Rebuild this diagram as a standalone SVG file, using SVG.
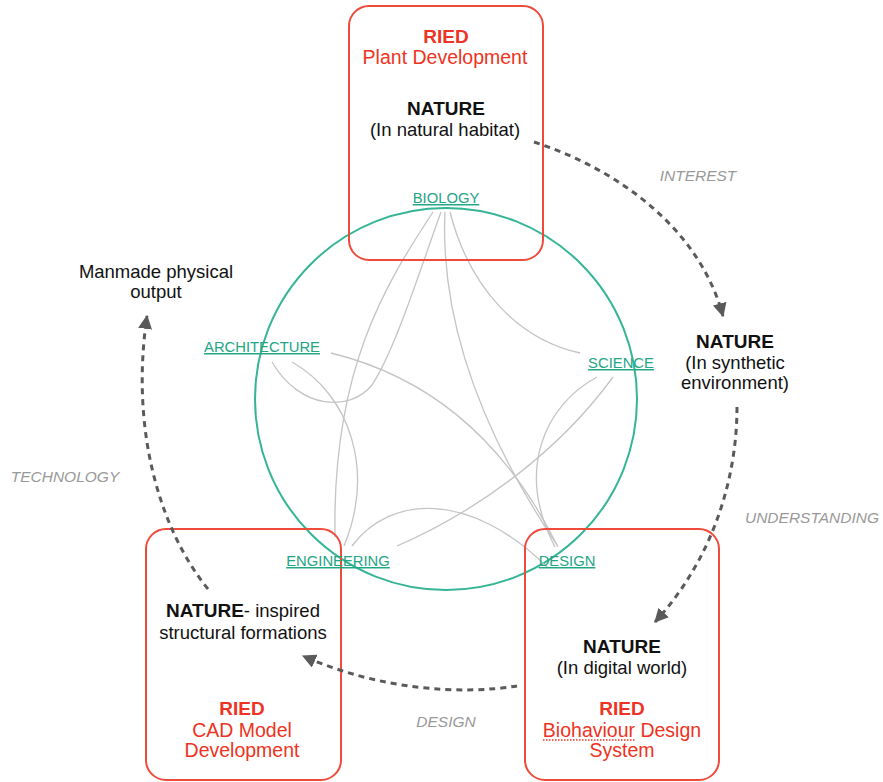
<svg xmlns="http://www.w3.org/2000/svg" width="883" height="782" viewBox="0 0 883 782">
<style>
.box{fill:none;stroke:#ef4b3c;stroke-width:2}
.ring{fill:none;stroke:#35b596;stroke-width:2}
.link{fill:none;stroke:#c4c4c4;stroke-width:1.3}
.flow{fill:none;stroke:#5a5a5a;stroke-width:3;stroke-dasharray:6 5}
text{font-family:"Liberation Sans",Arial,Helvetica,sans-serif;text-anchor:middle}
.red{fill:#ee3322;font-size:19.5px}
.redb{fill:#ee3322;font-size:19px;font-weight:bold}
.blk{fill:#111;font-size:18.5px}
.blkb{fill:#111;font-size:19px;font-weight:bold}
.tag{fill:#24a585;font-size:14.8px;text-decoration:underline}
.lab{fill:#999;font-size:15.5px;font-style:italic}
</style>
<defs>
<marker id="ah" viewBox="0 0 12 12" refX="11" refY="6" markerWidth="14" markerHeight="14" markerUnits="userSpaceOnUse" orient="auto">
<path d="M0,0 L12,6 L0,12 z" fill="#5a5a5a"/>
</marker>
</defs>

<g id="circle-disciplines">
<circle class="ring" cx="446" cy="399" r="191"/>
</g>

<g id="links">
<path class="link" d="M433,212 C385,285 332,370 335,537"/>
<path class="link" d="M441,212 C420,270 395,350 372,385 C350,412 300,410 272,362"/>
<path class="link" d="M445,212 C440,320 480,430 557,545"/>
<path class="link" d="M450,212 C470,290 520,340 580,353"/>
<path class="link" d="M292,362 C350,395 375,470 344,546"/>
<path class="link" d="M331,353 C420,375 500,430 558,547"/>
<path class="link" d="M597,377 C545,405 515,470 555,547"/>
<path class="link" d="M613,377 C560,450 480,510 397,546"/>
<path class="link" d="M352,546 C390,495 470,490 548,568"/>
</g>

<g id="node-top">
<rect class="box" x="349" y="6" width="194" height="254" rx="20"/>
<text class="redb" x="446" y="43">RIED</text>
<text class="red" x="445" y="64">Plant Development</text>
<text class="blkb" x="446" y="115">NATURE</text>
<text class="blk" x="445" y="136">(In natural habitat)</text>
</g>

<g id="node-bottom-left">
<rect class="box" x="146" y="529" width="195" height="251" rx="20"/>
<text class="blk" x="243" y="617"><tspan font-weight="bold" font-size="19">NATURE</tspan>- inspired</text>
<text class="blk" x="243" y="639">structural formations</text>
<text class="redb" x="242" y="715">RIED</text>
<text class="red" x="242" y="737">CAD Model</text>
<text class="red" x="242" y="757">Development</text>
</g>

<g id="node-bottom-right">
<rect class="box" x="525" y="529" width="194" height="251" rx="20"/>
<text class="blkb" x="622" y="653">NATURE</text>
<text class="blk" x="622" y="674">(In digital world)</text>
<text class="redb" x="622" y="715">RIED</text>
<text class="red" x="622" y="737">Biohaviour Design</text>
<line x1="543" y1="740" x2="636" y2="740" stroke="#ee3322" stroke-width="1.3" stroke-dasharray="1.5 1.5"/>
<text class="red" x="622" y="757">System</text>
</g>

<g id="node-synthetic">
<text class="blkb" x="735" y="348">NATURE</text>
<text class="blk" x="735" y="369">(In synthetic</text>
<text class="blk" x="735" y="389">environment)</text>
</g>

<g id="node-manmade">
<text class="blk" x="156" y="278">Manmade physical</text>
<text class="blk" x="156" y="298">output</text>
</g>

<g id="node-biology"><text class="tag" x="446" y="203">BIOLOGY</text></g>
<g id="node-architecture"><text class="tag" x="262" y="352">ARCHITECTURE</text></g>
<g id="node-science"><text class="tag" x="621" y="368">SCIENCE</text></g>
<g id="node-engineering"><text class="tag" x="338" y="566">ENGINEERING</text></g>
<g id="node-design"><text class="tag" x="567" y="566">DESIGN</text></g>

<g id="flows">
<path class="flow" d="M534,142 C620,170 700,230 723,316" marker-end="url(#ah)"/>
<path class="flow" d="M737,407 C737,480 712,560 655,622" marker-end="url(#ah)"/>
<path class="flow" d="M517,686 C460,695 380,690 303,656" marker-end="url(#ah)"/>
<path class="flow" d="M208,589 C160,530 130,430 147,316" marker-end="url(#ah)"/>
<text class="lab" x="698" y="181">INTEREST</text>
<text class="lab" x="812" y="523">UNDERSTANDING</text>
<text class="lab" x="446" y="727">DESIGN</text>
<text class="lab" x="65" y="482">TECHNOLOGY</text>
</g>
</svg>
